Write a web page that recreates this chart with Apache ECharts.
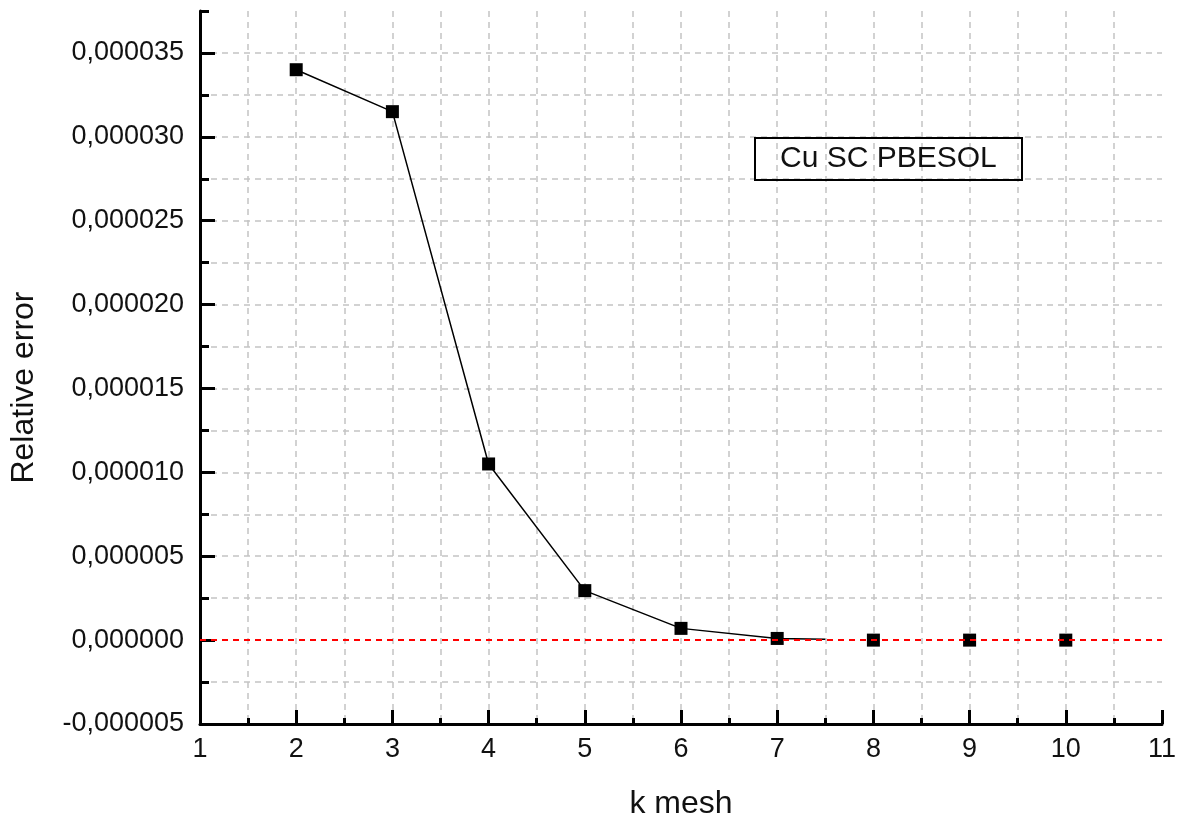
<!DOCTYPE html>
<html>
<head>
<meta charset="utf-8">
<script src="https://cdn.jsdelivr.net/npm/echarts@6/dist/echarts.min.js"></script>
<style>
  html,body{margin:0;padding:0;background:#fff;}
  #main{width:1187px;height:825px;}
</style>
</head>
<body>
<div id="main"></div>
<script>
// k mesh points and relative error
var kMesh = [2, 3, 4, 5, 6, 7, 8, 9, 10];
var relError = [0.0000340, 0.0000315, 0.0000105, 0.00000295, 0.00000070, 0.00000010, 0.0, 0.0, 0.0];
// the connecting line stops a little after k=7
var lineK = [2, 3, 4, 5, 6, 7, 7.5];
var lineErr = [0.0000340, 0.0000315, 0.0000105, 0.00000295, 0.00000070, 0.00000010, 0.00000005];
var legendText = 'Cu SC PBESOL';

var FONT = '"Liberation Sans", Arial, sans-serif';

function pairs(xs, ys){
	var out = [];
	for (var i = 0; i < xs.length; i++) out.push([xs[i], ys[i]]);
	return out;
}

var gridLine = {show: true, lineStyle: {color: '#c4c4c4', width: 1.5, type: [6, 5]}};

var myChart = echarts.init(document.getElementById('main'));
var option = {
	animation: false,
	backgroundColor: '#fff',
	title: {
		text: legendText,
		left: 755, top: 138,
		borderColor: '#000', borderWidth: 2,
		padding: [6, 25],
		textStyle: {fontFamily: FONT, fontSize: 30, fontWeight: 'normal', color: '#111', lineHeight: 30}
	},
	grid: {left: 198, right: 25, top: 11, bottom: 97, containLabel: false},
	xAxis: {
		type: 'value', min: 1, max: 11, interval: 1,
		name: 'k mesh', nameLocation: 'middle', nameGap: 64,
		nameTextStyle: {fontFamily: FONT, fontSize: 32, color: '#111'},
		axisLine: {show: true, onZero: false, lineStyle: {color: '#000', width: 3}},
		axisTick: {show: true, inside: true, length: 14, lineStyle: {color: '#000', width: 3}},
		minorTick: {show: true, splitNumber: 2, length: 6, lineStyle: {color: '#000', width: 3}},
		axisLabel: {fontFamily: FONT, fontSize: 27, color: '#111', margin: 12},
		splitLine: {show: true, showMinLine: false, showMaxLine: false, lineStyle: gridLine.lineStyle},
		minorSplitLine: gridLine
	},
	yAxis: [{
		// grid + short ticks every 2.5e-6
		type: 'value', position: 'left', min: -0.000005, max: 0.0000375, interval: 0.0000025,
		axisLine: {show: true, onZero: false, lineStyle: {color: '#000', width: 3}},
		axisTick: {show: true, inside: true, length: 9, lineStyle: {color: '#000', width: 3}},
		axisLabel: {show: false},
		splitLine: {show: true, showMinLine: false, showMaxLine: false, lineStyle: gridLine.lineStyle}
	}, {
		// labelled major ticks every 5e-6
		type: 'value', position: 'left', min: -0.000005, max: 0.0000375, interval: 0.000005,
		name: 'Relative error', nameLocation: 'middle', nameGap: 160,
		nameTextStyle: {fontFamily: FONT, fontSize: 32, color: '#111', padding: [0, 40, 0, 0]},
		axisLine: {show: false},
		axisTick: {show: true, inside: true, length: 15, lineStyle: {color: '#000', width: 3}},
		axisLabel: {
			fontFamily: FONT, fontSize: 27, color: '#111', margin: 16, showMaxLabel: false,
			formatter: function(v){ return v.toFixed(6).replace('.', ','); }
		},
		splitLine: {show: false}
	}],
	series: [{
		type: 'line',
		data: pairs(lineK, lineErr),
		showSymbol: false,
		lineStyle: {color: '#000', width: 1.5},
		z: 2
	}, {
		type: 'scatter',
		data: pairs(kMesh, relError),
		symbol: 'rect', symbolSize: 13,
		itemStyle: {color: '#000', opacity: 1},
		z: 3,
		markLine: {
			silent: true, symbol: 'none', label: {show: false},
			lineStyle: {color: '#ff0000', width: 2, type: [6, 5], opacity: 1},
			data: [{yAxis: 0}]
		}
	}]
};
myChart.setOption(option);
</script>
</body>
</html>
